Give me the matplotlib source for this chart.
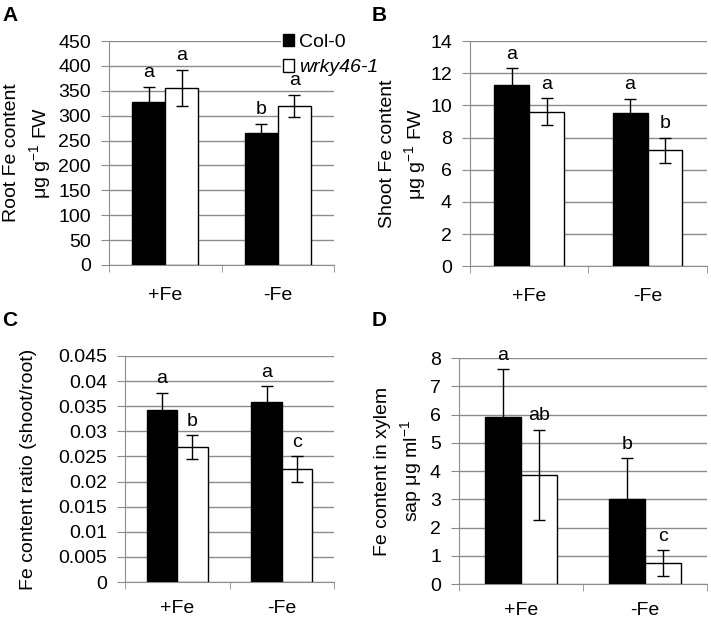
import matplotlib
matplotlib.use("Agg")
import matplotlib.pyplot as plt
import numpy as np
from matplotlib.patches import Patch

plt.rcParams['font.family'] = ['Liberation Sans', 'DejaVu Sans']
plt.rcParams['mathtext.fontset'] = 'custom'
plt.rcParams['mathtext.rm'] = 'Liberation Sans'

conditions = ['+Fe', '-Fe']
genotypes = ['Col-0', 'wrky46-1']

# A: root Fe content
root_col = [328, 265]
root_col_err = [30, 19]
root_wrky = [356, 320]
root_wrky_err = [36, 22]
root_letters = [['a', 'b'], ['a', 'a']]

# B: shoot Fe content
shoot_col = [11.25, 9.5]
shoot_col_err = [1.05, 0.9]
shoot_wrky = [9.6, 7.2]
shoot_wrky_err = [0.85, 0.8]
shoot_letters = [['a', 'a'], ['a', 'b']]

# C: shoot/root ratio
ratio_col = [0.0342, 0.0358]
ratio_col_err = [0.0035, 0.0032]
ratio_wrky = [0.0268, 0.0225]
ratio_wrky_err = [0.0024, 0.0025]
ratio_letters = [['a', 'a'], ['b', 'c']]

# D: xylem sap
sap_col = [5.9, 3.0]
sap_col_err = [1.7, 1.45]
sap_wrky = [3.87, 0.75]
sap_wrky_err = [1.6, 0.45]
sap_letters = [['a', 'b'], ['ab', 'c']]

grid_col = '#8c8c8c'
fs = 14


def panel(rect, col, col_err, wrky, wrky_err, letters, ymax, ystep, ylabel,
          label_x, width=0.295, xpad=13):
    ax = fig.add_axes(rect)
    x = np.arange(len(conditions))
    ax.bar(x - width / 2, col, width, color='black', edgecolor='black', lw=1, zorder=3)
    ax.bar(x + width / 2, wrky, width, color='white', edgecolor='black', lw=1, zorder=3)
    ax.errorbar(x - width / 2, col, yerr=col_err, fmt='none', ecolor='black',
                elinewidth=1, capsize=4, capthick=1, zorder=4)
    ax.errorbar(x + width / 2, wrky, yerr=wrky_err, fmt='none', ecolor='black',
                elinewidth=1, capsize=4, capthick=1, zorder=4)
    for i in range(len(conditions)):
        ax.annotate(letters[0][i], (x[i] - width / 2, col[i] + col_err[i]),
                    xytext=(0, 4), textcoords='offset points',
                    ha='center', va='bottom', fontsize=fs, zorder=6)
        ax.annotate(letters[1][i], (x[i] + width / 2, wrky[i] + wrky_err[i]),
                    xytext=(0, 4), textcoords='offset points',
                    ha='center', va='bottom', fontsize=fs, zorder=6)
    ax.set_xlim(-0.5, len(conditions) - 0.5)
    ax.set_ylim(0, ymax)
    ticks = np.arange(0, ymax + ystep / 2, ystep)
    ax.set_yticks(ticks)
    ax.set_yticklabels(['%g' % round(t, 4) for t in ticks], fontsize=fs)
    ax.yaxis.grid(True, color=grid_col, lw=1)
    ax.set_axisbelow(True)
    ax.set_xticks(x)
    ax.set_xticklabels(conditions, fontsize=fs)
    ax.tick_params(axis='x', length=0, pad=xpad)
    ax.set_xticks([-0.5, 0.5, 1.5], minor=True)
    ax.tick_params(axis='x', which='minor', length=5, color=grid_col)
    ax.tick_params(axis='y', length=6, color=grid_col, pad=7)
    for s in ['top', 'right']:
        ax.spines[s].set_visible(False)
    for s in ['left', 'bottom']:
        ax.spines[s].set_color(grid_col)
    ax.set_ylabel(ylabel, fontsize=fs, linespacing=1.35)
    ax.yaxis.set_label_coords(label_x, 0.5)
    return ax


fig = plt.figure(figsize=(7.11, 6.22), dpi=100)

axA = panel([0.1533, 0.574, 0.3165, 0.360], root_col, root_col_err, root_wrky,
            root_wrky_err, root_letters, 450, 50,
            'Root Fe content\nμg g$^{-1}$ FW', -0.245, xpad=16)
axB = panel([0.661, 0.572, 0.333, 0.362], shoot_col, shoot_col_err, shoot_wrky,
            shoot_wrky_err, shoot_letters, 14, 2,
            'Shoot Fe content\nμg g$^{-1}$ FW', -0.172, xpad=16)
axC = panel([0.1758, 0.0643, 0.294, 0.3634], ratio_col, ratio_col_err, ratio_wrky,
            ratio_wrky_err, ratio_letters, 0.045, 0.005,
            'Fe content ratio (shoot/root)', -0.42, width=0.29)
axD = panel([0.6456, 0.061, 0.3488, 0.3634], sap_col, sap_col_err, sap_wrky,
            sap_wrky_err, sap_letters, 8, 1,
            'Fe content in xylem\nsap μg ml$^{-1}$', -0.138, width=0.29)

for lab, xx, yy in [('A', 0.003, 0.99), ('B', 0.523, 0.99),
                    ('C', 0.003, 0.5), ('D', 0.523, 0.5)]:
    fig.text(xx, yy, lab, fontsize=15, fontweight='bold', ha='left', va='top')

handles = [Patch(facecolor='black', edgecolor='black'),
           Patch(facecolor='white', edgecolor='black')]
leg = axA.legend(handles, genotypes, loc='upper left', bbox_to_anchor=(0.395, 0.949),
                 bbox_transform=fig.transFigure,
                 fontsize=fs, frameon=True, handlelength=0.6, handleheight=0.6,
                 handletextpad=0.25, labelspacing=0.45, borderpad=0.1,
                 borderaxespad=0, fancybox=False)
leg.get_frame().set_edgecolor('none')
leg.get_frame().set_facecolor('white')
leg.get_frame().set_alpha(1)
leg.get_texts()[1].set_style('italic')
leg.set_zorder(5)

fig.savefig('out.png', dpi=100)
